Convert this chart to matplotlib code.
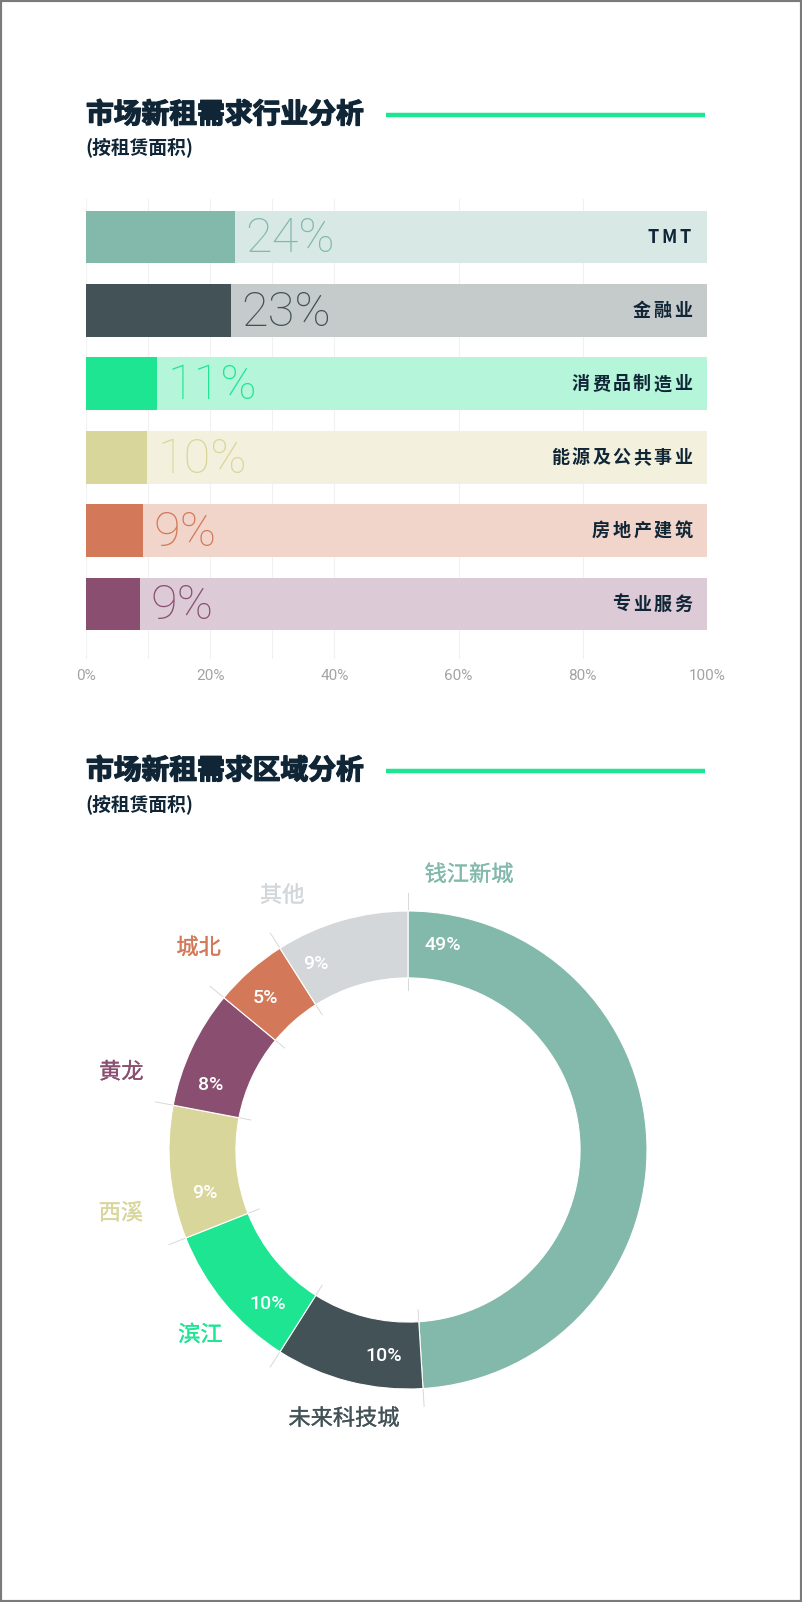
import matplotlib
matplotlib.use('Agg')
import matplotlib.pyplot as plt
import matplotlib.patheffects as pe
import numpy as np
from matplotlib.patches import Rectangle
from matplotlib.lines import Line2D

# ---------------- data ----------------
industries = ['TMT', '金融业', '消费品制造业', '能源及公共事业', '房地产建筑', '专业服务']
industry_share = [24, 23.3, 11.4, 9.9, 9.2, 8.7]
industry_dark = ['#82b9aa', '#435257', '#1de592', '#d9d69c', '#d3795a', '#8a4f70']
industry_light = ['#d8e9e5', '#c5cacb', '#b5f5da', '#f3f1dd', '#f1d5ca', '#dccad6']
axis_ticks = [0, 20, 40, 60, 80, 100]
grid_positions = [0, 10, 20, 30, 40, 60, 80, 100]

districts = ['钱江新城', '未来科技城', '滨江', '西溪', '黄龙', '城北', '其他']
district_share = [49, 10, 10, 9, 8, 5, 9]
district_colors = ['#82b9aa', '#435257', '#1de592', '#d9d69c', '#8a4f70', '#d3795a', '#d3d7da']

title1 = '市场新租需求行业分析'
title2 = '市场新租需求区域分析'
subtitle = '(按租赁面积)'

# ---------------- layout ----------------
W, H = 802, 1602
CJK = ['Noto Sans CJK SC', 'DejaVu Sans']
NUM = ['Roboto', 'DejaVu Sans']
NAVY = '#102636'
GREEN = '#1de592'

plt.rcParams['font.family'] = CJK
fig = plt.figure(figsize=(W / 100, H / 100), dpi=100)
fig.patch.set_facecolor('white')


def fy(y):
    return 1 - y / H


def header(y_title, y_sub, text):
    fig.text(86 / W, fy(y_title), text, fontsize=20, fontweight='bold',
             color=NAVY, va='center', ha='left', family=CJK,
             path_effects=[pe.withStroke(linewidth=1.0, foreground=NAVY)])
    fig.add_artist(Line2D([386 / W, 705 / W], [fy(y_title), fy(y_title)],
                          transform=fig.transFigure, color=GREEN, lw=3.2,
                          solid_capstyle='butt'))
    fig.text(85 / W, fy(y_sub), subtitle, fontsize=13.5, fontweight='bold',
             color=NAVY, va='center', ha='left', family=CJK)


header(115, 147, title1)
header(771, 804, title2)

# ---------------- bar chart ----------------
ax = fig.add_axes([86 / W, fy(659), 621 / W, 460 / H])
n = len(industries)
ypos = np.arange(n)
ax.barh(ypos, [100] * n, height=0.72, color=industry_light, zorder=2)
ax.barh(ypos, industry_share, height=0.72, color=industry_dark, zorder=3)
for g in grid_positions:
    ax.axvline(g, color='#f1f1f1', lw=0.8, zorder=0)

px_per_unit = 621 / 100.0
advance = 20.5 / px_per_unit  # letter-spaced category labels
for i, (name, v, c) in enumerate(zip(industries, industry_share, industry_dark)):
    ax.text(v + 1.7, i + 0.03, f'{round(v)}%', va='center', ha='left',
            fontsize=35, fontweight='light', family=NUM, color=c, zorder=4)
    adv = advance * (0.78 if name.isascii() else 1.0)
    xr = 97.8
    for j, ch in enumerate(reversed(name)):
        ax.text(xr - j * adv - adv / 2, i, ch, va='center', ha='center',
                fontsize=13, fontweight='bold', color=NAVY, family=CJK,
                zorder=4)
ax.set_xlim(0, 100)
ax.set_ylim(5.749, -0.518)
ax.set_xticks(axis_ticks)
ax.set_xticklabels([f'{t}%' for t in axis_ticks], family=NUM,
                   fontweight='normal', fontsize=11, color='#a3a3a3')
ax.set_yticks([])
ax.tick_params(axis='x', length=0, pad=7)
for s in ax.spines.values():
    s.set_visible(False)
ax.set_facecolor('none')

# ---------------- donut ----------------
R = 239
half = 300
ax2 = fig.add_axes([(408 - half) / W, fy(1150 + half), 2 * half / W, 2 * half / H])
ax2.pie(district_share, colors=district_colors, startangle=90, counterclock=False,
        radius=1, wedgeprops=dict(width=0.28, edgecolor='white', linewidth=0.8))
lim = half / R
ax2.set_xlim(-lim, lim)
ax2.set_ylim(-lim, lim)
ax2.set_aspect('equal')
ax2.axis('off')

total = float(sum(district_share))
starts = np.concatenate([[0], np.cumsum(district_share)[:-1]]) / total * 360


def pol(r, deg):
    t = np.deg2rad(deg)
    return r * np.sin(t), r * np.cos(t)


for a in starts:
    x0, y0 = pol(0.67, a)
    x1, y1 = pol(1.075, a)
    ax2.plot([x0, x1], [y0, y1], color='#d8d8d8', lw=0.7, zorder=0)

inner_off = [9.6, 10.4, 10.0, 9.8, 7.4, 7.2, 6.1]
outer_off = [12.5, 17.0, 15.9, 9.2, 4.4, 4.4, 6.1]
outer_r = [1.18, 1.155, 1.163, 1.23, 1.243, 1.218, 1.188]
for k, (name, v, c) in enumerate(zip(districts, district_share, district_colors)):
    xi, yi = pol(0.87, starts[k] + inner_off[k])
    ax2.text(xi, yi, f'{v}%', ha='center', va='center', color='white',
             fontsize=14, fontweight='medium', family=NUM, zorder=5)
    xo, yo = pol(outer_r[k], starts[k] + outer_off[k])
    ax2.text(xo, yo, name, ha='center', va='center', color=c,
             fontsize=16, family=CJK, zorder=5, clip_on=False,
             path_effects=[pe.withStroke(linewidth=0.2, foreground=c)])

# frame
fig.add_artist(Rectangle((0, 0), 1, 1, transform=fig.transFigure, fill=False,
                         edgecolor='#7a7a7a', lw=3))

fig.savefig('out.png', dpi=100, facecolor='white')
